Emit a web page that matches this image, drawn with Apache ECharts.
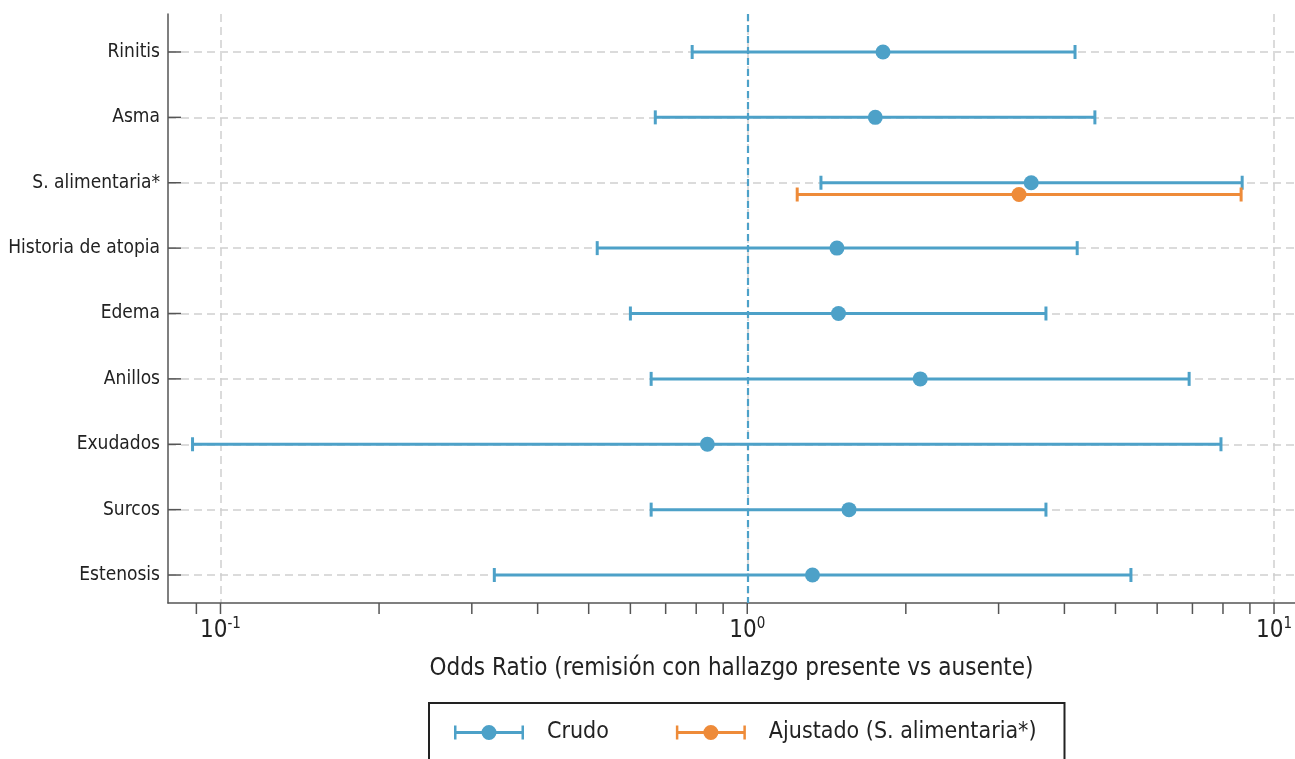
<!DOCTYPE html>
<html><head><meta charset="utf-8">
<script src="https://cdn.jsdelivr.net/npm/echarts@6/dist/echarts.min.js"></script>
<style>html,body{margin:0;padding:0;background:#fff}#c{width:1295px;height:759px}</style>
</head><body><div id="c"></div>
<script>
// ---- data ----
const categories = ['Rinitis','Asma','S. alimentaria*','Historia de atopia','Edema','Anillos','Exudados','Surcos','Estenosis'];
const crudoOR   = [1.81, 1.75, 3.46, 1.48, 1.49, 2.13, 0.84, 1.56, 1.33];
const crudoLow  = [0.786, 0.669, 1.38, 0.519, 0.600, 0.657, 0.0885, 0.657, 0.331];
const crudoHigh = [4.19, 4.57, 8.70, 4.23, 3.69, 6.90, 7.93, 3.69, 5.35];
const ajustadoCategories = ['S. alimentaria*'];
const ajustadoOR   = [3.28];
const ajustadoLow  = [1.244];
const ajustadoHigh = [8.66];
const majorTicks = [0.1, 1, 10];
const minorTicks = [0.09, 0.2, 0.3, 0.4, 0.5, 0.6, 0.7, 0.8, 0.9, 2, 3, 4, 5, 6, 7, 8, 9];
const tickLabels = {'-1': '-1', '0': '0', '1': '1'};
const referenceOR = 1;
const xAxisTitle = 'Odds Ratio (remisión con hallazgo presente vs ausente)';
const seriesNames = ['Crudo', 'Ajustado (S. alimentaria*)'];

// ---- style ----
const FONT = "'Liberation Sans Narrow', 'DejaVu Sans Condensed', 'Roboto Condensed', sans-serif";
const BLUE = '#4DA1C8';
const ORANGE = '#EE8B39';
const AXIS = '#555555';
const TEXT = '#222222';
const X_MIN = 0.0795, X_MAX = 10.96;
const Y_MIN = -0.581, Y_MAX = 8.428;
const ADJ_OFFSET = 0.18;

const iconPath = 'path://M0,0H2.5V14H0Z M67.5,0H70V14H67.5Z M0,5.5H70V8.5H0Z M27.5,7A7.5,7.5 0 1,1 42.5,7A7.5,7.5 0 1,1 27.5,7Z';

function errRender(offset) {
  return function (params, api) {
    const lo = api.value(0), hi = api.value(1), y = api.value(2) + offset;
    const p1 = api.coord([lo, y]), p2 = api.coord([hi, y]);
    const color = api.visual('color');
    const cap = 7;
    const st = { stroke: color, lineWidth: 3, fill: null };
    return { type: 'group', children: [
      { type: 'line', shape: { x1: p1[0], y1: p1[1], x2: p2[0], y2: p2[1] }, style: st },
      { type: 'line', shape: { x1: p1[0], y1: p1[1] - cap, x2: p1[0], y2: p1[1] + cap }, style: st },
      { type: 'line', shape: { x1: p2[0], y1: p2[1] - cap, x2: p2[0], y2: p2[1] + cap }, style: st }
    ]};
  };
}

function decorRender(params, api) {
  const children = [];
  const tickStyle = { stroke: AXIS, lineWidth: 1.5 };
  majorTicks.concat(minorTicks).forEach(v => {
    const p = api.coord([v, Y_MAX]);
    children.push({ type: 'line', shape: { x1: p[0], y1: p[1], x2: p[0], y2: p[1] + 11 }, style: tickStyle });
  });
  categories.forEach((c, i) => {
    const p = api.coord([X_MIN, i]);
    children.push({ type: 'line', shape: { x1: p[0], y1: p[1], x2: p[0] + 13, y2: p[1] }, style: tickStyle });
  });
  return { type: 'group', children };
}

const crudoErr = categories.map((c, i) => [crudoLow[i], crudoHigh[i], i]);
const crudoPts = categories.map((c, i) => [crudoOR[i], i]);
const ajErr = ajustadoCategories.map((c, k) => [ajustadoLow[k], ajustadoHigh[k], categories.indexOf(c)]);
const ajPts = ajustadoCategories.map((c, k) => [ajustadoOR[k], categories.indexOf(c) + ADJ_OFFSET]);

const option = {
  animation: false,
  backgroundColor: '#fff',
  textStyle: { fontFamily: FONT },
  grid: { left: 168, right: 0, top: 14, bottom: 156, containLabel: false, outerBoundsMode: 'none' },
  xAxis: {
    type: 'log', logBase: 10, min: X_MIN, max: X_MAX,
    name: xAxisTitle, nameLocation: 'middle', nameGap: 54,
    nameTextStyle: { fontSize: 24, color: TEXT, fontFamily: FONT },
    axisLine: { show: true, onZero: false, lineStyle: { color: AXIS, width: 1.5 } },
    axisTick: { show: false },
    splitLine: { show: true, showMinLine: false, showMaxLine: false, lineStyle: { color: '#d0d0d0', width: 1.5, type: [8, 5] } },
    axisLabel: {
      showMinLabel: false, showMaxLabel: false, margin: 14,
      formatter: function (v) {
        const e = Math.log10(v);
        const r = Math.round(e);
        if (Math.abs(e - r) > 1e-6 || tickLabels[String(r)] === undefined) return '';
        return '{b|10}{s|' + tickLabels[String(r)] + '}';
      },
      rich: {
        b: { fontSize: 24, color: TEXT, fontFamily: FONT, verticalAlign: 'bottom', lineHeight: 26 },
        s: { fontSize: 15, color: TEXT, fontFamily: FONT, verticalAlign: 'top', lineHeight: 15 }
      }
    }
  },
  yAxis: {
    type: 'value', inverse: true, min: Y_MIN, max: Y_MAX, splitNumber: 9, minInterval: 1, maxInterval: 1,
    axisLine: { show: true, lineStyle: { color: AXIS, width: 1.5 } },
    axisTick: { show: false },
    splitLine: { show: true, showMinLine: false, showMaxLine: false, lineStyle: { color: '#d0d0d0', width: 1.5, type: [8, 5] } },
    axisLabel: {
      showMinLabel: false, showMaxLabel: false, margin: 8,
      fontSize: 19, color: TEXT, fontFamily: FONT,
      formatter: function (v) {
        const r = Math.round(v);
        if (Math.abs(v - r) > 1e-6 || r < 0 || r >= categories.length) return '';
        return categories[r];
      }
    }
  },
  legend: {
    data: [
      { name: seriesNames[0], icon: iconPath, itemStyle: { color: BLUE } },
      { name: seriesNames[1], icon: iconPath, itemStyle: { color: ORANGE } }
    ],
    left: 429, top: 703, orient: 'horizontal',
    borderColor: '#222', borderWidth: 2, borderRadius: 0,
    padding: [18, 28, 18, 25],
    itemWidth: 70, itemHeight: 15, itemGap: 67,
    textStyle: { fontSize: 23, color: TEXT, fontFamily: FONT, padding: [0, 0, 0, 18] },
    selectedMode: false
  },
  series: [
    {
      name: 'decor', type: 'custom', renderItem: decorRender, data: [[1, 0]],
      encode: { x: 0, y: 1 }, clip: false, silent: true, z: 1
    },
    {
      name: seriesNames[0], type: 'custom', renderItem: errRender(0), data: crudoErr,
      encode: { x: [0, 1], y: 2 }, itemStyle: { color: BLUE }, z: 3,
      markLine: {
        silent: true, symbol: 'none', label: { show: false },
        lineStyle: { color: BLUE, width: 2.2, type: [7, 4] },
        data: [{ xAxis: referenceOR }]
      }
    },
    {
      name: seriesNames[0], type: 'scatter', data: crudoPts, symbol: 'circle', symbolSize: 15,
      itemStyle: { color: BLUE, opacity: 1 }, z: 4
    },
    {
      name: seriesNames[1], type: 'custom', renderItem: errRender(ADJ_OFFSET), data: ajErr,
      encode: { x: [0, 1], y: 2 }, itemStyle: { color: ORANGE }, z: 3
    },
    {
      name: seriesNames[1], type: 'scatter', data: ajPts, symbol: 'circle', symbolSize: 15,
      itemStyle: { color: ORANGE, opacity: 1 }, z: 4
    }
  ]
};

const chart = echarts.init(document.getElementById('c'), null, { renderer: 'canvas' });
chart.setOption(option);
</script>
</body></html>
